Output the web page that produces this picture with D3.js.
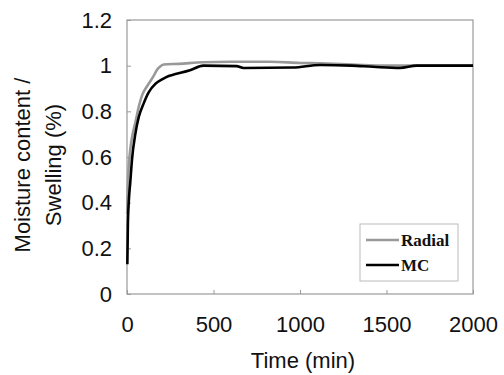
<!DOCTYPE html>
<html>
<head>
<meta charset="utf-8">
<script src="https://cdn.jsdelivr.net/npm/d3@7"></script>
<style>
  body { margin: 0; background: #fff; }
  text { font-family: "Liberation Sans", Arial, sans-serif; }
</style>
</head>
<body>
<div id="chart"></div>
<script>
// Time (min) and normalised values
const radialTime = [1, 3, 6, 10, 20, 30, 48, 68, 87, 116, 133, 154, 172, 190, 212, 300, 440, 600, 827, 1000, 1116, 1300, 1500, 1700, 2000];
const radialValue = [0.35, 0.42, 0.5, 0.56, 0.64, 0.69, 0.75, 0.82, 0.87, 0.91, 0.93, 0.955, 0.98, 0.995, 1.005, 1.008, 1.015, 1.017, 1.017, 1.012, 1.01, 1.005, 1.0, 1.0, 1.0];
const mcTime = [2, 5, 10, 19, 29, 48, 68, 97, 126, 164, 203, 241, 280, 364, 441, 634, 672, 960, 1116, 1300, 1422, 1578, 1675, 2000];
const mcValue = [0.13, 0.3, 0.4, 0.49, 0.59, 0.70, 0.775, 0.836, 0.884, 0.92, 0.94, 0.955, 0.963, 0.98, 1.0, 0.998, 0.99, 0.992, 1.003, 1.0, 0.995, 0.99, 1.0, 1.0];
const xTicks = [0, 500, 1000, 1500, 2000];
const yTicks = [0, 0.2, 0.4, 0.6, 0.8, 1, 1.2];
const seriesNames = ["Radial", "MC"];

const width = 504, height = 375;
const margin = { top: 20, right: 31, bottom: 81, left: 127 };
const gray = "#999999";
const fontSize = "22px";

const svg = d3.select("#chart").append("svg")
  .attr("width", width)
  .attr("height", height);

const x = d3.scaleLinear().domain([0, 2000]).range([margin.left, width - margin.right]);
const y = d3.scaleLinear().domain([0, 1.2]).range([height - margin.bottom, margin.top]);

// frame
svg.append("rect")
  .attr("x", x(0)).attr("y", y(1.2))
  .attr("width", x(2000) - x(0)).attr("height", y(0) - y(1.2))
  .style("fill", "none").style("stroke", gray).style("stroke-width", 1.2);

// axes with inward ticks
const xAxis = svg.append("g")
  .attr("transform", `translate(0,${y(0)})`)
  .call(d3.axisBottom(x).tickValues(xTicks).tickSizeInner(-4).tickSizeOuter(0).tickPadding(22).tickFormat(d3.format("d")));
const yAxis = svg.append("g")
  .attr("transform", `translate(${x(0)},0)`)
  .call(d3.axisLeft(y).tickValues(yTicks).tickSizeInner(-4).tickSizeOuter(0).tickPadding(15).tickFormat(d => d3.format("~g")(d)));

[xAxis, yAxis].forEach(g => {
  g.select(".domain").remove();
  g.selectAll("line").style("stroke", gray);
  g.selectAll("text").style("font-size", fontSize).style("fill", "#111")
    .style("font-family", "'Liberation Sans', Arial, sans-serif");
});

// titles
svg.append("text")
  .attr("x", (x(0) + x(2000)) / 2 + 3).attr("y", 368)
  .attr("text-anchor", "middle")
  .style("font-size", fontSize).style("fill", "#111")
  .text("Time (min)");

const yTitle = svg.append("text")
  .attr("transform", `translate(30,165) rotate(-90)`)
  .attr("text-anchor", "middle")
  .style("font-size", fontSize).style("fill", "#111");
yTitle.append("tspan").attr("x", 0).attr("y", 0).text("Moisture content /");
yTitle.append("tspan").attr("x", 0).attr("y", 31).text("Swelling (%)");

// lines
const line = d3.line().x(d => x(d[0])).y(d => y(d[1])).curve(d3.curveMonotoneX);
const radialData = radialTime.map((t, i) => [t, radialValue[i]]);
const mcData = mcTime.map((t, i) => [t, mcValue[i]]);

svg.append("path").datum(radialData)
  .attr("d", line)
  .style("fill", "none").style("stroke", gray).style("stroke-width", 2.6);
svg.append("path").datum(mcData)
  .attr("d", line)
  .style("fill", "none").style("stroke", "#000").style("stroke-width", 2.6);

// legend
const legend = svg.append("g");
legend.append("rect")
  .attr("x", 360).attr("y", 224).attr("width", 98).attr("height", 57)
  .style("fill", "#fff").style("stroke", "#bbb").style("stroke-width", 1);
const legendColors = [gray, "#000"];
seriesNames.forEach((name, i) => {
  const ly = 240 + i * 25;
  legend.append("line")
    .attr("x1", 366).attr("x2", 399).attr("y1", ly).attr("y2", ly)
    .style("stroke", legendColors[i]).style("stroke-width", 2.6);
  legend.append("text")
    .attr("x", 401).attr("y", ly + 6)
    .style("font-family", "'Liberation Serif', 'Times New Roman', serif")
    .style("font-weight", "bold").style("font-size", "17px").style("fill", "#111")
    .text(name);
});
</script>
</body>
</html>
